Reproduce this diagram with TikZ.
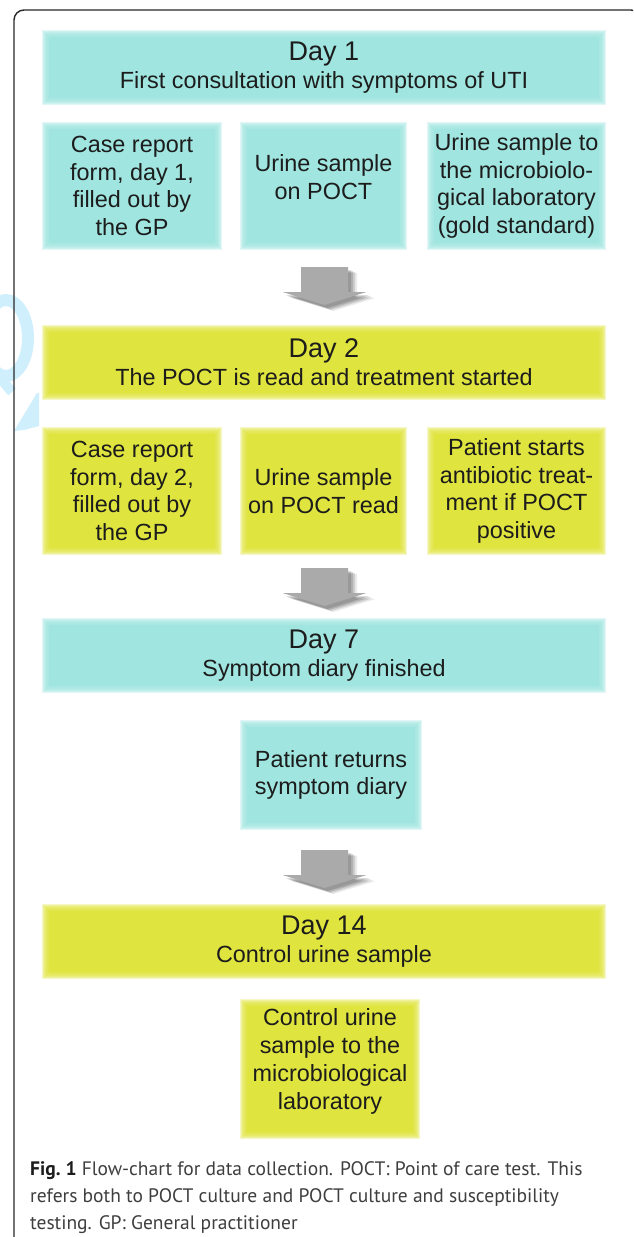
\documentclass[tikz,border=0pt]{standalone}
\usepackage{fontspec}
\setmainfont{Liberation Sans}
\newfontfamily\capfont{PT Sans}

\definecolor{stageteal}{RGB}{160,229,223}
\definecolor{stageyellow}{RGB}{223,228,62}
\definecolor{inkdark}{RGB}{28,28,28}
\definecolor{captionink}{RGB}{62,62,62}
\definecolor{arrowgray}{RGB}{170,170,170}
\definecolor{marklight}{RGB}{208,239,252}
\definecolor{framegray}{RGB}{40,40,40}

% extra depth under the last line, to lift a text block inside its box
\newcommand\liftby[1]{\rule[-#1]{0pt}{#1}}

\tikzset{
  softbox/.style={fill=#1, inner sep=0pt, align=center, text=inkdark,
    preaction={draw=#1, line width=14pt, draw opacity=0.3},
    preaction={draw=#1, line width=12pt, draw opacity=0.3},
    preaction={draw=#1, line width=10pt, draw opacity=0.3},
    preaction={draw=#1, line width=8pt, draw opacity=0.3},
    preaction={draw=#1, line width=6pt, draw opacity=0.3},
    preaction={draw=#1, line width=4pt, draw opacity=0.3},
    preaction={draw=#1, line width=2pt, draw opacity=0.3}},
  bodytext/.style={font=\fontsize{23.4}{27.7}\selectfont},
  stagebox/.style={softbox=#1, bodytext, minimum width=550pt, minimum height=61pt},
  stepbox/.style={softbox=#1, bodytext},
  captionline/.style={anchor=base west, inner sep=0pt, text=captionink,
    font=\capfont\fontsize{19.5}{23}\selectfont},
  pics/downarrow/.style={code={
    % soft drop shadow
    \foreach \sx/\sy/\so in {3/3/0.14, 5/4/0.14, 7/5/0.12, 9/6/0.08}{
      \fill[black, opacity=\so, xshift=\sx pt, yshift=-\sy pt]
        (-23.5,0) -- (23.5,0) -- (23.5,25) -- (42,25) -- (0,38)
        -- (-42,25) -- (-23.5,25) -- cycle;
    }
    \fill[arrowgray]
      (-23.5,0) -- (23.5,0) -- (23.5,25) -- (42,25) -- (0,38)
      -- (-42,25) -- (-23.5,25) -- cycle;
  }}
}

\newcommand\daytitle[1]{{\fontsize{27}{30}\selectfont #1}}

\begin{document}
\begin{tikzpicture}[x=1pt, y=-1pt]
\useasboundingbox (0,0) rectangle (633,1237);
\clip (0,0) rectangle (633,1237);

% faint mark at the left edge
\draw[marklight, line width=12pt] (6,338) ellipse[x radius=22, y radius=38];
\draw[marklight, line width=10pt] (0,378) -- (12,392);
\fill[marklight] (14,431) -- (37,393) -- (39,393) -- (39,426) -- (24,430) -- cycle;

% outer frame
\draw[framegray, line width=1.4pt, rounded corners=10pt]
  (14,1260) -- (14,10) -- (641,10) -- (641,1260);

% day 1
\node[stagebox=stageteal] (d1) at (324,67.5)
  {\daytitle{Day 1}\\First consultation with symptoms of UTI};
\node[stepbox=stageteal, minimum width=166pt, minimum height=114pt] (r1a) at (132,186)
  {Case report\\form, day 1,\\filled out by\\the GP};
\node[stepbox=stageteal, minimum width=153pt, minimum height=114pt] (r1b) at (323.5,186)
  {Urine sample\\on POCT\liftby{18pt}};
\node[stepbox=stageteal, minimum width=165pt, minimum height=114pt] (r1c) at (516.5,186)
  {Urine sample to\\the microbiolo-\\gical laboratory\\(gold standard)};

\pic at (324.5,267) {downarrow};

% day 2
\node[stagebox=stageyellow] (d2) at (324,362.5)
  {\daytitle{Day 2}\\The POCT is read and treatment started};
\node[stepbox=stageyellow, minimum width=166pt, minimum height=114pt] (r2a) at (132,491)
  {Case report\\form, day 2,\\filled out by\\the GP};
\node[stepbox=stageyellow, minimum width=153pt, minimum height=114pt] (r2b) at (323.5,491)
  {Urine sample\\on POCT read};
\node[stepbox=stageyellow, minimum width=165pt, minimum height=114pt] (r2c) at (516.5,491)
  {Patient starts\\antibiotic treat-\\ment if POCT\\positive};

\pic at (324.5,568) {downarrow};

% day 7
\node[stagebox=stageteal] (d7) at (324,655.5)
  {\daytitle{Day 7}\\Symptom diary finished};
\node[stepbox=stageteal, minimum width=168pt, minimum height=96pt] (pr) at (331,775)
  {Patient returns\\symptom diary};

\pic at (324.5,850) {downarrow};

% day 14
\node[stagebox=stageyellow] (d14) at (324,941.5)
  {\daytitle{Day 14}\\Control urine sample};
\node[stepbox=stageyellow, minimum width=166pt, minimum height=126pt] (cu) at (330,1069)
  {Control urine\\sample to the\\microbiological\\laboratory\liftby{20pt}};

% caption
\node[captionline] (cap1) at (30,1175)
  {{\bfseries\color{inkdark}Fig.~1} Flow-chart for data collection. POCT: Point of care test. This};
\node[captionline] (cap2) at (30,1202)
  {refers both to POCT culture and POCT culture and susceptibility};
\node[captionline] (cap3) at (30,1229)
  {testing. GP: General practitioner};
\end{tikzpicture}
\end{document}
